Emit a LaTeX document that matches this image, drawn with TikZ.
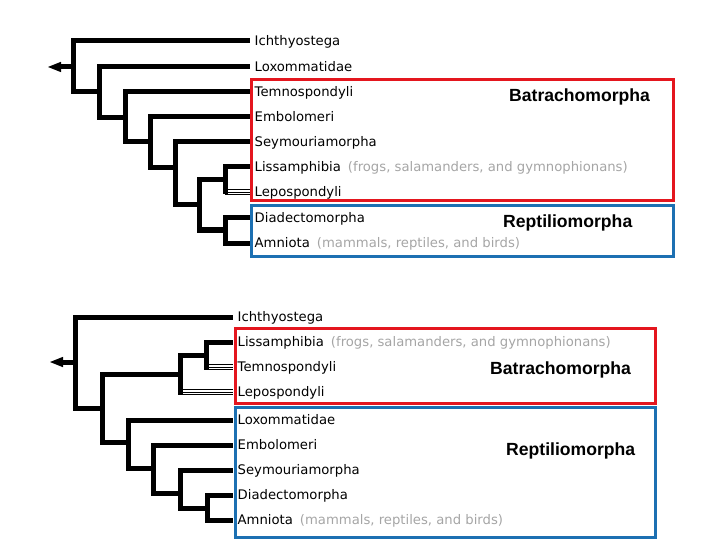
\documentclass[tikz,border=0pt]{standalone}
\usepackage{fontspec}
\setmainfont{Liberation Sans}
\newfontfamily\leaffont{DejaVu Sans}
\definecolor{boxred}{RGB}{228,22,30}
\definecolor{boxblue}{RGB}{28,112,178}
\definecolor{note}{RGB}{165,165,165}
\newcommand{\gnote}[1]{\hspace{7pt}{\color{note}#1}}
\begin{document}
\begin{tikzpicture}[x=1pt,y=-1pt,
  branch/.style={line width=5pt, black},
  thread/.style={line width=0.9pt, black},
  leaf/.style={anchor=west, inner xsep=4.5pt, inner ysep=0pt, text height=13pt, text depth=3.4pt, font=\leaffont\fontsize{13.2}{16}\selectfont},
  clade/.style={anchor=base west, inner sep=0pt, font=\fontsize{17.6}{20}\selectfont\bfseries},
  cladebox/.style={draw=#1, line width=3pt, rectangle, inner sep=0pt},
]
\useasboundingbox (0,0) rectangle (720,540);

% ---------- boxes ----------
\node[cladebox=boxred, minimum width=422pt, minimum height=121pt] (boxA) at (462,140.5) {};
\node[cladebox=boxblue, minimum width=422pt, minimum height=50pt] (boxB) at (462,231) {};
\node[cladebox=boxred, minimum width=420pt, minimum height=75pt] (boxC) at (445,365.5) {};
\node[cladebox=boxblue, minimum width=420pt, minimum height=130pt] (boxD) at (445,472) {};

% ---------- top tree ----------
\node[leaf] (a1) at (250,41)  {Ichthyostega};
\node[leaf] (a2) at (250,67)  {Loxommatidae};
\node[leaf] (a3) at (250,92)  {Temnospondyli};
\node[leaf] (a4) at (250,117) {Embolomeri};
\node[leaf] (a5) at (250,142) {Seymouriamorpha};
\node[leaf] (a6) at (250,167) {Lissamphibia\gnote{(frogs, salamanders, and gymnophionans)}};
\node[leaf] (a7) at (250,192) {Lepospondyli};
\node[leaf] (a8) at (250,218) {Diadectomorpha};
\node[leaf] (a9) at (250,243) {Amniota\gnote{(mammals, reptiles, and birds)}};

\coordinate (rA) at (73,67);
\coordinate (stubA) at (60,67);
\coordinate (nA2) at (99,92);
\coordinate (nA3) at (125,118);
\coordinate (nA4) at (150,142);
\coordinate (nA5) at (175,168);
\coordinate (nA6) at (199,205);
\coordinate (nA6b) at (225,180);
\coordinate (nA7) at (225,230);

\draw[branch] (rA) -- (stubA);
\fill (stubA) ++(1,-5.2) -- ++(0,10.4) -- (48,67) -- cycle;
\draw[branch] (rA) |- (a1.west);
\draw[branch] (rA) |- (nA2);
\draw[branch] (nA2) |- (a2.west);
\draw[branch] (nA2) |- (nA3);
\draw[branch] (nA3) |- (a3.west);
\draw[branch] (nA3) |- (nA4);
\draw[branch] (nA4) |- (a4.west);
\draw[branch] (nA4) |- (nA5);
\draw[branch] (nA5) |- (a5.west);
\draw[branch] (nA5) |- (nA6);
\draw[branch] (nA6) |- (nA6b);
\draw[branch] (nA6) |- (nA7);
\draw[branch] (nA6b) |- (a6.west);
\coordinate (jA7) at (nA6b |- a7.west);
\draw[branch, line cap=rect] (nA6b) -- (jA7);
\foreach \o in {-2.2,0,2.2} \draw[thread] ([yshift=\o pt]jA7) -- ([yshift=\o pt]a7.west);
\draw[branch] (nA7) |- (a8.west);
\draw[branch] (nA7) |- (a9.west);

\node[clade] (tA) at (509,102) {Batrachomorpha};
\node[clade] (tB) at (503,227) {Reptiliomorpha};

% ---------- bottom tree ----------
\node[leaf] (b1) at (233,317) {Ichthyostega};
\node[leaf] (b2) at (233,342) {Lissamphibia\gnote{(frogs, salamanders, and gymnophionans)}};
\node[leaf] (b3) at (233,367) {Temnospondyli};
\node[leaf] (b4) at (233,392) {Lepospondyli};
\node[leaf] (b5) at (233,420) {Loxommatidae};
\node[leaf] (b6) at (233,445) {Embolomeri};
\node[leaf] (b7) at (233,470) {Seymouriamorpha};
\node[leaf] (b8) at (233,495) {Diadectomorpha};
\node[leaf] (b9) at (233,520) {Amniota\gnote{(mammals, reptiles, and birds)}};

\coordinate (rB) at (75,362);
\coordinate (stubB) at (62,362);
\coordinate (nB) at (102,408);
\coordinate (nBat) at (180,374);
\coordinate (nLT) at (206,355);
\coordinate (nR1) at (128,442);
\coordinate (nR2) at (153,468);
\coordinate (nR3) at (180,493);
\coordinate (nR4) at (207,508);

\draw[branch] (rB) -- (stubB);
\fill (stubB) ++(1,-5.2) -- ++(0,10.4) -- (50,362) -- cycle;
\draw[branch] (rB) |- (b1.west);
\draw[branch] (rB) |- (nB);
\draw[branch] (nB) |- (nBat);
\draw[branch] (nB) |- (nR1);
\draw[branch] (nBat) |- (nLT);
\draw[branch] (nLT) |- (b2.west);
\coordinate (jB3) at (nLT |- b3.west);
\draw[branch, line cap=rect] (nLT) -- (jB3);
\foreach \o in {-2.2,0,2.2} \draw[thread] ([yshift=\o pt]jB3) -- ([yshift=\o pt]b3.west);
\coordinate (jB4) at (nBat |- b4.west);
\draw[branch, line cap=rect] (nBat) -- (jB4);
\foreach \o in {-2.2,0,2.2} \draw[thread] ([yshift=\o pt]jB4) -- ([yshift=\o pt]b4.west);
\draw[branch] (nR1) |- (b5.west);
\draw[branch] (nR1) |- (nR2);
\draw[branch] (nR2) |- (b6.west);
\draw[branch] (nR2) |- (nR3);
\draw[branch] (nR3) |- (b7.west);
\draw[branch] (nR3) |- (nR4);
\draw[branch] (nR4) |- (b8.west);
\draw[branch] (nR4) |- (b9.west);

\node[clade] (tC) at (490,374) {Batrachomorpha};
\node[clade] (tD) at (506,455) {Reptiliomorpha};
\end{tikzpicture}
\end{document}
